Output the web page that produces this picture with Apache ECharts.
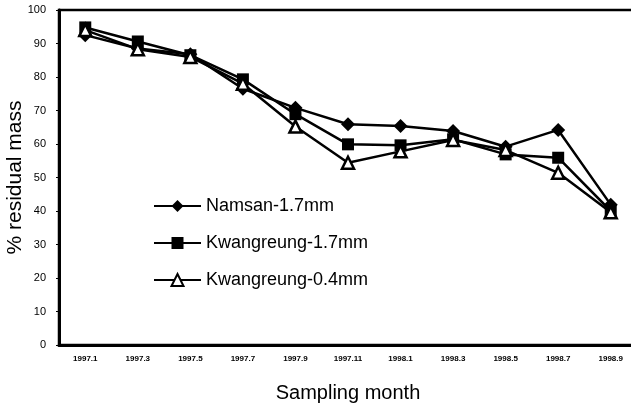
<!DOCTYPE html>
<html>
<head>
<meta charset="utf-8">
<script src="https://cdn.jsdelivr.net/npm/echarts@6/dist/echarts.min.js"></script>
<style>
  html, body { margin: 0; padding: 0; background: #fff; }
  #chart { width: 631px; height: 407px; }
</style>
</head>
<body>
<div id="chart"></div>
<script>
// sampling months on the x axis
const months = ['1997.1', '1997.3', '1997.5', '1997.7', '1997.9', '1997.11',
    '1998.1', '1998.3', '1998.5', '1998.7', '1998.9'];
// % residual mass
const namsan17 = [92.5, 88.5, 86.8, 76.5, 70.8, 65.9, 65.4, 63.9, 59.2, 64.2, 41.9];
const kwang17 = [94.8, 90.6, 86.5, 79.3, 68.9, 59.9, 59.6, 61.4, 56.9, 55.9, 40.0];
const kwang04 = [94.0, 88.3, 86.0, 78.0, 65.2, 54.4, 57.8, 61.2, 58.2, 51.4, 39.6];
const yTicks = [0, 10, 20, 30, 40, 50, 60, 70, 80, 90, 100];

const chart = echarts.init(document.getElementById('chart'));
const font = 'Liberation Sans, Arial, sans-serif';

function lineSeries(name, data, symbol, size, fill) {
    return {
        name: name,
        type: 'line',
        data: data,
        symbol: symbol,
        symbolSize: size,
        showAllSymbol: true,
        lineStyle: { color: '#000', width: 2.5 },
        itemStyle: { color: fill, borderColor: '#000', borderWidth: fill === '#fff' ? 2.5 : 0 },
        emphasis: { disabled: true },
        animation: false
    };
}

const option = {
    backgroundColor: '#fff',
    grid: {
        left: 59, top: 10, width: 578, bottom: 62,
        outerBoundsMode: 'none',
        show: true, borderColor: '#000', borderWidth: 2.5, backgroundColor: 'transparent'
    },
    legend: {
        orient: 'vertical',
        left: 153, top: 197,
        padding: 0,
        itemWidth: 47, itemHeight: 15, itemGap: 19,
        textStyle: { fontFamily: font, fontSize: 18, color: '#000' },
        data: ['Namsan-1.7mm', 'Kwangreung-1.7mm', 'Kwangreung-0.4mm']
    },
    xAxis: {
        type: 'category',
        data: months,
        boundaryGap: true,
        name: 'Sampling month',
        nameLocation: 'middle',
        nameGap: 38,
        nameMoveOverlap: false,
        nameTextStyle: { fontFamily: font, fontSize: 20, color: '#000' },
        axisLine: { lineStyle: { color: '#000', width: 3 } },
        axisTick: { show: false },
        axisLabel: {
            fontFamily: font, fontSize: 8, fontWeight: 'bold', color: '#000', margin: 10
        }
    },
    yAxis: {
        type: 'value',
        min: 0, max: 100, interval: 10,
        name: '% residual mass',
        nameLocation: 'middle',
        nameGap: 33,
        nameMoveOverlap: false,
        nameTextStyle: { fontFamily: font, fontSize: 21, color: '#000' },
        axisLine: { show: true, lineStyle: { color: '#000', width: 3 } },
        axisTick: { show: true, length: 3, lineStyle: { color: '#000' } },
        splitLine: { show: false },
        axisLabel: {
            fontFamily: font, fontSize: 11, color: '#000', margin: 13,
            formatter: v => yTicks.includes(v) ? String(v) : ''
        }
    },
    series: [
        lineSeries('Namsan-1.7mm', namsan17, 'diamond', 14, '#000'),
        lineSeries('Kwangreung-1.7mm', kwang17, 'rect', 12, '#000'),
        lineSeries('Kwangreung-0.4mm', kwang04, 'triangle', 12, '#fff')
    ]
};
chart.setOption(option);
</script>
</body>
</html>
